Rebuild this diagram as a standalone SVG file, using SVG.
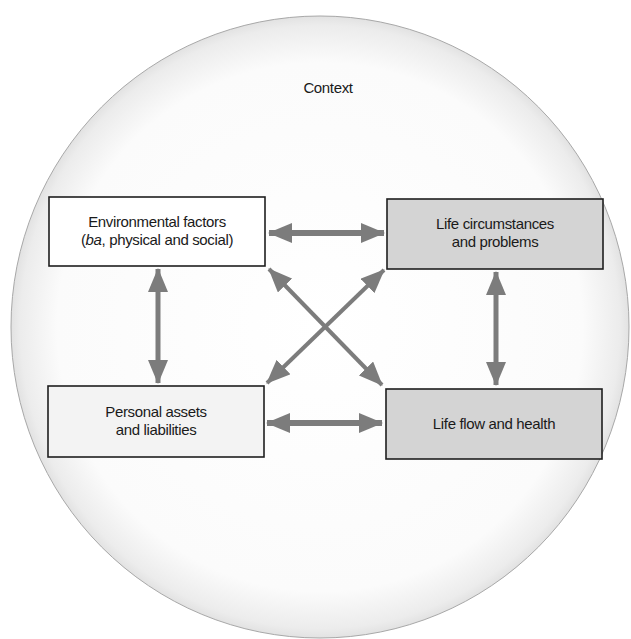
<svg xmlns="http://www.w3.org/2000/svg" width="631" height="639" viewBox="0 0 631 639">
<style>
.t{font-family:"Liberation Sans",Arial,sans-serif;font-size:15px;letter-spacing:-0.35px;fill:#1a1a1a;text-anchor:middle}
.box{stroke:#1e1e1e;stroke-width:1.6}
.c{stroke:#7c7c7c;fill:none}
</style>
<defs>
<radialGradient id="bg" cx="0.5" cy="0.5" r="0.5">
<stop offset="0" stop-color="#ffffff"/>
<stop offset="0.85" stop-color="#fbfbfb"/>
<stop offset="0.97" stop-color="#ececec"/>
<stop offset="1" stop-color="#e2e2e2"/>
</radialGradient>
<marker id="ah" viewBox="0 0 24 20" refX="23" refY="10" markerWidth="24" markerHeight="20" markerUnits="userSpaceOnUse" orient="auto-start-reverse">
<path d="M0,0 L24,10 L0,20 Z" fill="#7c7c7c"/>
</marker>
</defs>
<rect width="631" height="639" fill="#ffffff"/>
<ellipse cx="320" cy="327" rx="309" ry="311" fill="url(#bg)" stroke="#a8a8a8" stroke-width="1"/>
<text class="t" x="328" y="93">Context</text>
<g id="connectors">
<line class="c" stroke-width="6" x1="269" y1="233" x2="384" y2="233" marker-start="url(#ah)" marker-end="url(#ah)"/>
<line class="c" stroke-width="6" x1="267" y1="423" x2="382" y2="423" marker-start="url(#ah)" marker-end="url(#ah)"/>
<line class="c" stroke-width="5" x1="158" y1="269" x2="158" y2="383" marker-start="url(#ah)" marker-end="url(#ah)"/>
<line class="c" stroke-width="5" x1="496" y1="272" x2="496" y2="385" marker-start="url(#ah)" marker-end="url(#ah)"/>
<line class="c" stroke-width="4" x1="269" y1="269" x2="382" y2="385" marker-start="url(#ah)" marker-end="url(#ah)"/>
<line class="c" stroke-width="4" x1="384" y1="270" x2="267" y2="383" marker-start="url(#ah)" marker-end="url(#ah)"/>
</g>
<g id="env">
<rect class="box" x="49" y="197" width="216" height="69" fill="#ffffff"/>
<text class="t" x="157" y="227">Environmental factors</text>
<text class="t" x="157" y="245">(<tspan font-style="italic">ba</tspan>, physical and social)</text>
</g>
<g id="life-circ">
<rect class="box" x="387" y="199" width="216" height="70" fill="#d4d4d4"/>
<text class="t" x="495" y="229">Life circumstances</text>
<text class="t" x="495" y="247">and problems</text>
</g>
<g id="personal">
<rect class="box" x="48" y="386" width="216" height="71" fill="#f3f3f3"/>
<text class="t" x="156" y="417">Personal assets</text>
<text class="t" x="156" y="435">and liabilities</text>
</g>
<g id="life-flow">
<rect class="box" x="386" y="389" width="216" height="70" fill="#d4d4d4"/>
<text class="t" x="494" y="429">Life flow and health</text>
</g>
</svg>
